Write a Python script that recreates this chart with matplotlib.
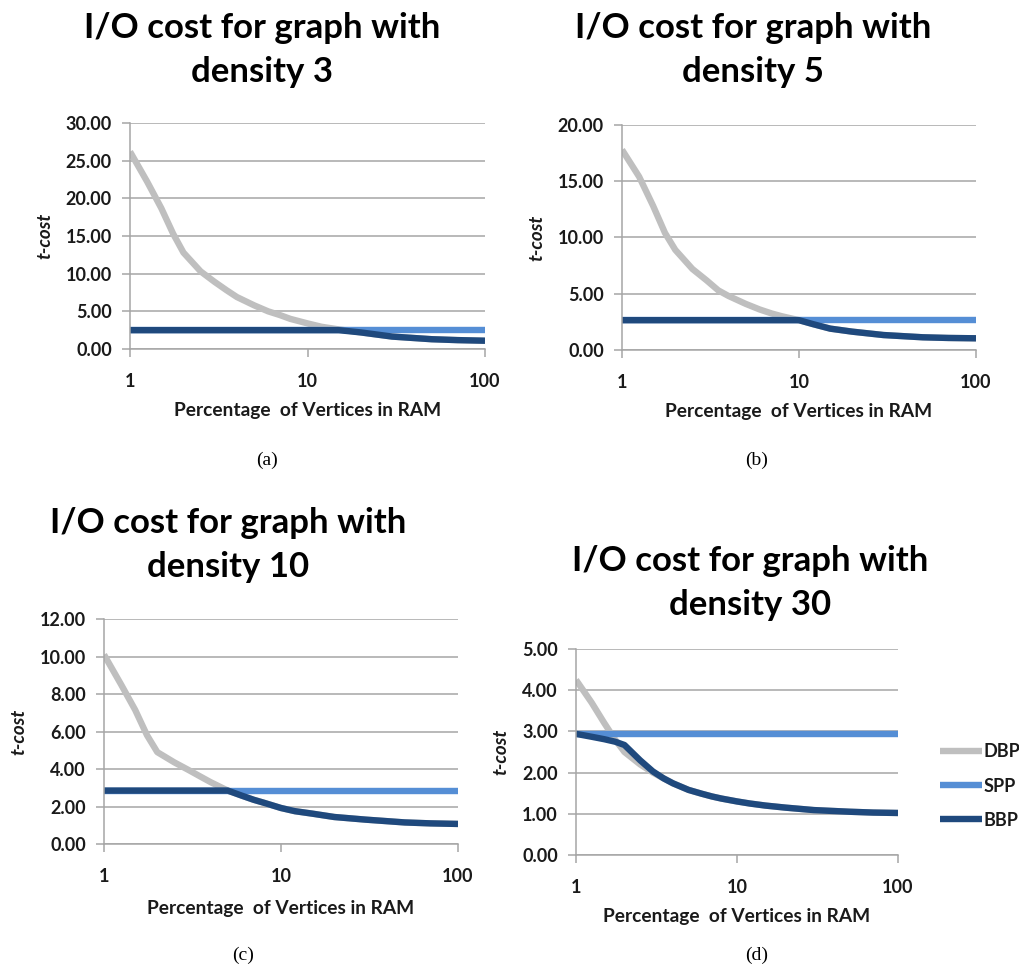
import numpy as np
import matplotlib
matplotlib.use("Agg")
import matplotlib.pyplot as plt
from matplotlib.ticker import FixedLocator, NullLocator, FormatStrFormatter

plt.rcParams['font.family'] = ['Lato', 'DejaVu Sans']

# percentage of vertices held in RAM (x axis, log scale)
pct = [1, 1.25, 1.5, 1.75, 2, 2.5, 3, 3.5, 4, 5, 6, 7, 8, 10, 12, 15, 20, 30, 50, 70, 100]

# density 3
dbp_3 = [26.2, 22.2, 18.7, 15.3, 12.8, 10.3, 8.9, 7.8, 6.9, 5.8, 5.0, 4.5, 4.0, 3.4, 2.95,
         2.6, 2.2, 1.65, 1.3, 1.18, 1.1]
spp_3 = [2.5] * 21
bbp_3 = [2.5] * 16 + [2.2, 1.65, 1.3, 1.18, 1.1]

# density 5
dbp_5 = [17.8, 15.4, 12.8, 10.4, 8.9, 7.2, 6.2, 5.3, 4.8, 4.1, 3.6, 3.25, 3.0, 2.65, 2.3,
         1.9, 1.63, 1.33, 1.13, 1.07, 1.04]
spp_5 = [2.65] * 21
bbp_5 = [2.65] * 14 + [2.3, 1.9, 1.63, 1.33, 1.13, 1.07, 1.04]

# density 10
dbp_10 = [10.1, 8.5, 7.15, 5.8, 4.9, 4.35, 3.95, 3.6, 3.3, 2.85, 2.58, 2.36, 2.2, 1.92, 1.75,
          1.62, 1.44, 1.3, 1.15, 1.1, 1.07]
spp_10 = [2.85] * 21
bbp_10 = [2.85] * 10 + [2.58, 2.36, 2.2, 1.92, 1.75, 1.62, 1.44, 1.3, 1.15, 1.1, 1.07]

# density 30
dbp_30 = [4.25, 3.7, 3.2, 2.8, 2.5, 2.2, 2.0, 1.86, 1.74, 1.58, 1.49, 1.42, 1.37, 1.30, 1.25,
          1.2, 1.15, 1.09, 1.05, 1.03, 1.02]
spp_30 = [2.93] * 21
bbp_30 = [2.94, 2.87, 2.81, 2.75, 2.67, 2.3, 2.03, 1.86, 1.74, 1.58, 1.49, 1.42, 1.37, 1.30, 1.25,
          1.2, 1.15, 1.09, 1.05, 1.03, 1.02]

C_DBP = '#bfbfbf'
C_SPP = '#558ed5'
C_BBP = '#1f497d'
GRID = '#a6a6a6'
INK = '#1a1a1a'

W, H = 1020, 972
fig = plt.figure(figsize=(W / 100, H / 100), dpi=100)


def px_axes(left, right, top, bottom):
    return fig.add_axes([left / W, 1 - bottom / H, (right - left) / W, (bottom - top) / H])


def panel(ax, dbp, spp, bbp, ymax, ystep, ylpad, xlpad):
    lw = 4.6
    ax.plot(pct, dbp, color=C_DBP, lw=lw, solid_capstyle='butt', solid_joinstyle='round', label='DBP')
    ax.plot(pct, spp, color=C_SPP, lw=lw, solid_capstyle='butt', label='SPP')
    ax.plot(pct, bbp, color=C_BBP, lw=lw, solid_capstyle='butt', solid_joinstyle='round', label='BBP')
    ax.set_xscale('log')
    ax.set_xlim(1, 100)
    ax.set_ylim(0, ymax)
    ax.xaxis.set_major_locator(FixedLocator([1, 10, 100]))
    ax.xaxis.set_minor_locator(NullLocator())
    ax.set_xticklabels(['1', '10', '100'])
    ax.set_yticks(np.arange(0, ymax + ystep / 2, ystep))
    ax.yaxis.set_major_formatter(FormatStrFormatter('%.2f'))
    ax.grid(axis='y', color=GRID, lw=1.1)
    ax.set_axisbelow(True)
    for s in ['top', 'right']:
        ax.spines[s].set_visible(False)
    for s in ['left', 'bottom']:
        ax.spines[s].set_color(GRID)
        ax.spines[s].set_linewidth(1.1)
    ax.tick_params(axis='y', length=6, width=1.1, color=GRID, pad=7, labelsize=13)
    ax.tick_params(axis='x', length=6, width=1.1, color=GRID, pad=11, labelsize=13)
    for t in ax.get_xticklabels() + ax.get_yticklabels():
        t.set_fontweight('bold')
        t.set_color(INK)
    ax.set_xlabel('Percentage  of Vertices in RAM', fontsize=13.8, fontweight='bold',
                  labelpad=xlpad, color=INK)
    ax.set_ylabel('t-cost', fontsize=13.5, fontweight='bold', style='italic',
                  labelpad=ylpad, color=INK)


ax_a = px_axes(130, 485, 123, 349)
panel(ax_a, dbp_3, spp_3, bbp_3, 30, 5, 9, 9)
ax_b = px_axes(622, 976, 125, 350)
panel(ax_b, dbp_5, spp_5, bbp_5, 20, 5, 9, 9)
ax_c = px_axes(104, 458, 619, 844)
panel(ax_c, dbp_10, spp_10, bbp_10, 12, 2, 9, 11)
ax_d = px_axes(576, 898, 649, 855)
panel(ax_d, dbp_30, spp_30, bbp_30, 5, 1, 9, 9)

titles = [
    ('I/O cost for graph with\ndensity 3', 262, 50),
    ('I/O cost for graph with\ndensity 5', 753, 50),
    ('I/O cost for graph with\ndensity 10', 228, 545),
    ('I/O cost for graph with\ndensity 30', 750, 583),
]
for text, x, y in titles:
    fig.text(x / W, 1 - y / H, text, ha='center', va='center', fontsize=25,
             fontweight='bold', linespacing=1.45, color='black')

captions = [('(a)', 267, 460), ('(b)', 757, 460), ('(c)', 243, 955), ('(d)', 757, 955)]
for text, x, y in captions:
    fig.text(x / W, 1 - y / H, text, ha='center', va='center', fontsize=14,
             family='Liberation Serif')

handles, labels = ax_d.get_legend_handles_labels()
leg = fig.legend(handles, labels, loc='center left', bbox_to_anchor=(940 / W, 1 - 786 / H),
                 frameon=False, fontsize=13, handlelength=2.3, handletextpad=0.1,
                 labelspacing=0.95, borderpad=0, borderaxespad=0)
for t in leg.get_texts():
    t.set_fontweight('bold')
    t.set_color(INK)

fig.savefig('out.png', dpi=100, facecolor='white')
